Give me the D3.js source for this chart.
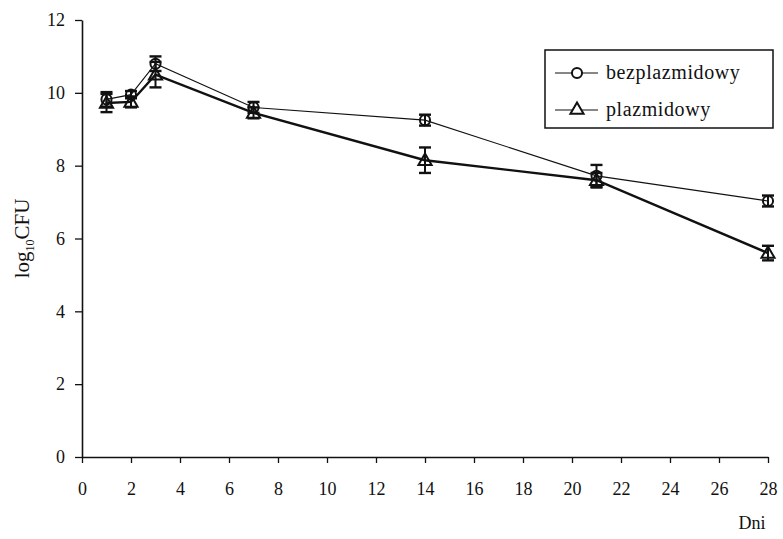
<!DOCTYPE html>
<html><head><meta charset="utf-8">
<script src="https://cdn.jsdelivr.net/npm/d3@7"></script>
<style>body{margin:0;background:#fff}svg{display:block}</style>
</head><body>
<svg id="c" width="783" height="539"></svg>
<script>
const days = [1, 2, 3, 7, 14, 21, 28];
const bezplazmidowy = [9.82, 9.95, 10.8, 9.6, 9.25, 7.72, 7.03];
const bezplazmidowyErr = [0.2, 0.1, 0.2, 0.15, 0.15, 0.3, 0.15];
const plazmidowy = [9.72, 9.75, 10.5, 9.45, 8.15, 7.6, 5.6];
const plazmidowyErr = [0.25, 0.15, 0.35, 0.15, 0.35, 0.2, 0.2];
const xTicks = d3.range(0, 29, 2);
const yTicks = d3.range(0, 13, 2);
const seriesNames = ["bezplazmidowy", "plazmidowy"];

const FONT = '"Liberation Serif","DejaVu Serif",serif';
const svg = d3.select("#c");
const x = d3.scaleLinear().domain([0, 28]).range([82, 768]);
const y = d3.scaleLinear().domain([0, 12]).range([457, 20]);

const xAxis = svg.append("g").attr("transform", `translate(0,${y(0)})`)
  .call(d3.axisBottom(x).tickValues(xTicks).tickSize(7).tickSizeOuter(0).tickPadding(18));
const yAxis = svg.append("g").attr("transform", `translate(${x(0)},0)`)
  .call(d3.axisLeft(y).tickValues(yTicks).tickSize(7).tickSizeOuter(0).tickPadding(10));
[xAxis, yAxis].forEach(a => {
  a.attr("font-family", FONT).attr("font-size", 18);
  a.select(".domain").attr("stroke", "#111").attr("stroke-width", 1.6);
  a.selectAll(".tick line").attr("stroke", "#111").attr("stroke-width", 1.3);
  a.selectAll(".tick text").attr("fill", "#111");
});
xAxis.selectAll(".tick line").attr("y2", 6);

const yl = svg.append("text").attr("transform", `translate(29,${(y(0)+y(12))/2}) rotate(-90)`)
  .attr("text-anchor", "middle").attr("font-family", FONT).attr("font-size", 21).attr("fill", "#111");
yl.append("tspan").text("log");
yl.append("tspan").text("10").attr("font-size", 12).attr("dy", 5);
yl.append("tspan").text("CFU").attr("dy", -5);
svg.append("text").attr("x", 752).attr("y", 529).attr("text-anchor", "middle")
  .attr("font-family", FONT).attr("font-size", 18).attr("fill", "#111").text("Dni");

const data = [
  {name: seriesNames[0], vals: bezplazmidowy, err: bezplazmidowyErr, w: 1.1, sym: d3.symbolCircle, size: 80},
  {name: seriesNames[1], vals: plazmidowy, err: plazmidowyErr, w: 2.4, sym: d3.symbolTriangle, size: 75}
];
const line = d3.line().x(d => x(d[0])).y(d => y(d[1]));

data.forEach(s => {
  const pts = days.map((d, i) => [d, s.vals[i], s.err[i]]);
  svg.append("path").attr("d", line(pts)).attr("fill", "none").attr("stroke", "#111").attr("stroke-width", s.w);
});
data.forEach(s => {
  const pts = days.map((d, i) => [d, s.vals[i], s.err[i]]);
  const g = svg.append("g");
  pts.forEach(p => {
    const cx = x(p[0]);
    g.append("line").attr("x1", cx).attr("x2", cx).attr("y1", y(p[1] + p[2])).attr("y2", y(p[1] - p[2]))
      .attr("stroke", "#111").attr("stroke-width", 2);
    [p[1] + p[2], p[1] - p[2]].forEach(v => {
      g.append("line").attr("x1", cx - 6).attr("x2", cx + 6).attr("y1", y(v)).attr("y2", y(v))
        .attr("stroke", "#111").attr("stroke-width", 2.4);
    });
    g.append("path").attr("d", d3.symbol().type(s.sym).size(s.size)())
      .attr("transform", `translate(${cx},${y(p[1]) + (s.sym === d3.symbolTriangle ? 1 : 0)})`)
      .attr("fill", "none").attr("stroke", "#111").attr("stroke-width", 2);
  });
});

const lg = svg.append("g");
lg.append("rect").attr("x", 545).attr("y", 50).attr("width", 228).attr("height", 78)
  .attr("fill", "#fff").attr("stroke", "#111").attr("stroke-width", 1.5);
data.forEach((s, i) => {
  const ly = 73 + i * 37;
  lg.append("line").attr("x1", 555).attr("x2", 598).attr("y1", ly).attr("y2", ly)
    .attr("stroke", "#111").attr("stroke-width", 1.2);
  lg.append("path").attr("d", d3.symbol().type(s.sym).size(s.size)())
    .attr("transform", `translate(577,${ly})`).attr("fill", "#fff").attr("stroke", "#111").attr("stroke-width", 2);
  lg.append("text").attr("x", 606).attr("y", ly + 6).attr("font-family", FONT).attr("font-size", 20)
    .attr("letter-spacing", 0.6).attr("fill", "#111").text(s.name);
});
</script>
</body></html>
